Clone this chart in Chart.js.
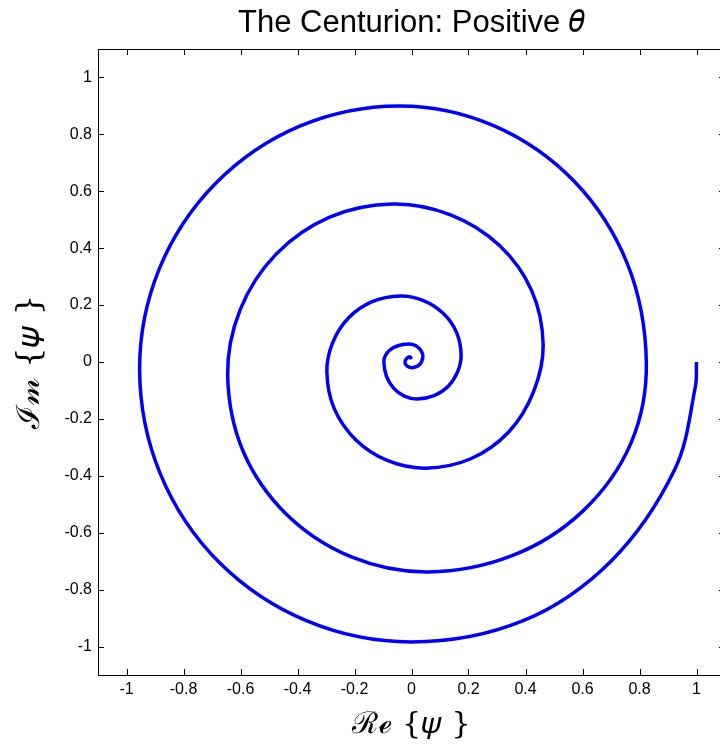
<!DOCTYPE html>
<html>
<head>
<meta charset="utf-8">
<script src="https://cdn.jsdelivr.net/npm/chart.js@4.4.0/dist/chart.umd.min.js"></script>
<style>
  html, body { margin: 0; padding: 0; background: #fff; overflow: hidden; }
</style>
</head>
<body>
<canvas id="spiral" width="730" height="751"></canvas>
<script>
// spiral points, outside in
// every ~22.5 deg for the outer turns, every ~45 deg for the tiny centre loop
const reVals = [
  1.0, 0.996, 0.924, 0.70, 0.39, 0.0, -0.365, -0.675, -0.881,
  -0.954, -0.885, -0.687, -0.392, -0.044, 0.288, 0.570, 0.758,
  0.824, 0.77, 0.60, 0.355, 0.058, -0.211, -0.439, -0.592,
  -0.645, -0.601, -0.475, -0.287, -0.065, 0.137, 0.308, 0.422,
  0.462, 0.428, 0.341, 0.208, 0.05, -0.083, -0.195, -0.271,
  -0.297, -0.277, -0.222, -0.138, -0.04, 0.042, 0.111, 0.158,
  0.174, 0.162, 0.129, 0.079, 0.02, -0.025, -0.063, -0.088,
  -0.097, -0.091, -0.072, -0.045, -0.012, 0.008, 0.025, 0.036,
  0.04, 0.029, 0.002, -0.016, -0.023, -0.016, -0.005, 0.0];
const imVals = [
  0.0, -0.087, -0.377, -0.70, -0.91, -0.984, -0.911, -0.704, -0.394,
  -0.028, 0.327, 0.628, 0.829, 0.9, 0.831, 0.636, 0.344,
  0.0, -0.285, -0.525, -0.68, -0.738, -0.685, -0.535, -0.311,
  -0.046, 0.184, 0.379, 0.509, 0.555, 0.517, 0.410, 0.250,
  0.06, -0.105, -0.246, -0.34, -0.373, -0.347, -0.274, -0.164,
  -0.035, 0.067, 0.154, 0.212, 0.232, 0.216, 0.171, 0.104,
  0.025, -0.034, -0.085, -0.118, -0.13, -0.12, -0.092, -0.05,
  0.0, 0.024, 0.045, 0.058, 0.063, 0.060, 0.050, 0.035,
  0.018, -0.009, -0.02, -0.014, 0.0, 0.013, 0.018, 0.01];
const xTicks = [-1, -0.8, -0.6, -0.4, -0.2, 0, 0.2, 0.4, 0.6, 0.8, 1];
const yTicks = [-1, -0.8, -0.6, -0.4, -0.2, 0, 0.2, 0.4, 0.6, 0.8, 1];

const points = reVals.map((v, i) => ({ x: v, y: imVals[i] }));
const fmt = v => String(Math.round(v * 10) / 10);

// matlab style box with inward ticks on all four sides
const boxTicks = {
  id: 'boxTicks',
  afterDraw(chart) {
    const { ctx, chartArea: a, scales: { x, y } } = chart;
    const len = 6;
    ctx.save();
    ctx.strokeStyle = '#000';
    ctx.lineWidth = 1;
    ctx.beginPath();
    xTicks.forEach(v => {
      const px = Math.round(x.getPixelForValue(v)) + 0.5;
      ctx.moveTo(px, a.bottom); ctx.lineTo(px, a.bottom - len);
      ctx.moveTo(px, a.top); ctx.lineTo(px, a.top + len);
    });
    yTicks.forEach(v => {
      const py = Math.round(y.getPixelForValue(v)) + 0.5;
      ctx.moveTo(a.left, py); ctx.lineTo(a.left + len, py);
      ctx.moveTo(a.right, py); ctx.lineTo(a.right - len, py);
    });
    ctx.stroke();
    ctx.strokeRect(Math.round(a.left) + 0.5, Math.round(a.top) + 0.5,
      Math.round(a.right - a.left), Math.round(a.bottom - a.top));
    ctx.restore();
  }
};

new Chart(document.getElementById('spiral'), {
  type: 'scatter',
  data: {
    datasets: [{
      data: points,
      showLine: true,
      borderColor: 'rgb(0, 0, 255)',
      borderWidth: 3.5,
      pointRadius: 0,
      tension: 0.345, // gives round arcs for 22.5 deg steps
      fill: false
    }]
  },
  options: {
    responsive: false,
    animation: false,
    layout: { padding: { left: 0, right: 5, top: 0, bottom: 0 } },
    plugins: {
      legend: { display: false },
      tooltip: { enabled: false },
      title: {
        display: true,
        fullSize: false,
        text: 'The Centurion: Positive \u{1D703}',
        color: '#000',
        font: { family: '"Liberation Sans", Arial, sans-serif', size: 31, weight: 'normal', lineHeight: 1.1 },
        padding: { top: 6, bottom: 8.9 }
      }
    },
    scales: {
      x: {
        type: 'linear',
        min: -1.1,
        max: 1.1,
        afterBuildTicks: s => { s.ticks = xTicks.map(v => ({ value: v })); },
        afterFit: s => { s.height = 76; },
        grid: { display: false, drawTicks: false },
        border: { display: false },
        ticks: {
          color: '#000',
          padding: 5,
          maxRotation: 0,
          font: { family: '"Liberation Sans", Arial, sans-serif', size: 16 },
          callback: fmt
        },
        title: {
          display: true,
          text: '\u211B\u212F {\u{1D713} }',
          color: '#000',
          font: { family: '"DejaVu Serif", serif', size: 30 },
          padding: { top: 0, bottom: 8 }
        }
      },
      y: {
        type: 'linear',
        min: -1.1,
        max: 1.1,
        afterBuildTicks: s => { s.ticks = yTicks.map(v => ({ value: v })); },
        afterFit: s => { s.width = 98; },
        grid: { display: false, drawTicks: false },
        border: { display: false },
        ticks: {
          color: '#000',
          padding: 6,
          font: { family: '"Liberation Sans", Arial, sans-serif', size: 16 },
          callback: fmt
        },
        title: {
          display: true,
          text: '\u2110\u{1D4C2} {\u{1D713} }',
          color: '#000',
          font: { family: '"DejaVu Serif", serif', size: 32 },
          padding: { top: 11, bottom: 0 }
        }
      }
    }
  },
  plugins: [boxTicks]
});
</script>
</body>
</html>
